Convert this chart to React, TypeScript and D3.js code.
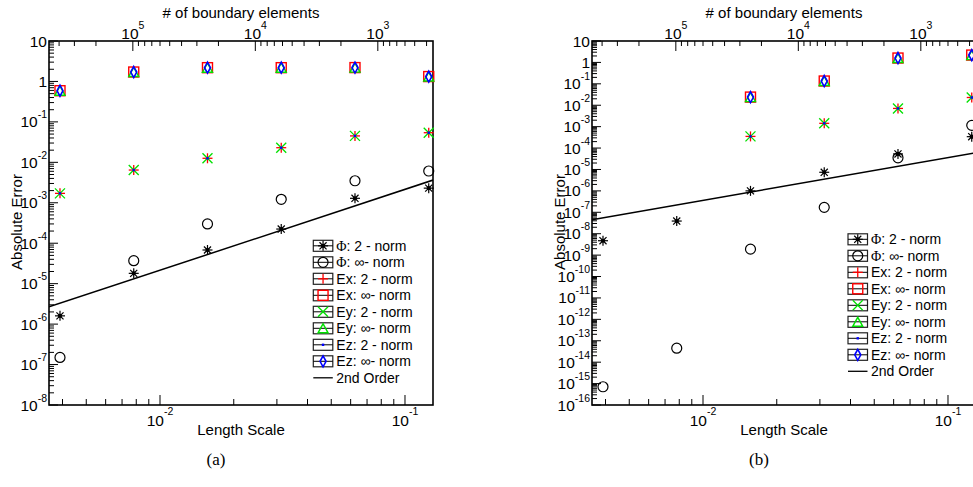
import React from 'react';
import * as d3 from 'd3';

// Mesh length scales (h) for the refinement study
const lengthScale = [1 / 256, 1 / 128, 1 / 64, 1 / 32, 1 / 16, 1 / 8];

// Panel (a) errors
const phi2NormA = [1.6e-6, 1.8e-5, 6.8e-5, 2.24e-4, 1.29e-3, 2.3e-3];
const phiInfNormA = [1.5e-7, 3.7e-5, 3.0e-4, 1.22e-3, 3.5e-3, 6.1e-3];
const ex2NormA = [1.71e-3, 6.45e-3, 1.26e-2, 2.3e-2, 4.5e-2, 5.4e-2];
const exInfNormA = [0.59, 1.71, 2.19, 2.19, 2.2, 1.32];
const ey2NormA = [1.71e-3, 6.45e-3, 1.26e-2, 2.3e-2, 4.5e-2, 5.4e-2];
const eyInfNormA = [0.59, 1.71, 2.19, 2.19, 2.2, 1.32];
const ez2NormA = [1.71e-3, 6.45e-3, 1.26e-2, 2.3e-2, 4.5e-2, 5.4e-2];
const ezInfNormA = [0.59, 1.71, 2.19, 2.19, 2.2, 1.32];
const secondOrderCoefA = 0.215;

// Panel (b) errors (field errors only on the four coarsest meshes)
const fieldLengthScaleB = [1 / 64, 1 / 32, 1 / 16, 1 / 8];
const phi2NormB = [4.7e-9, 3.9e-8, 1.0e-6, 7.4e-6, 5.3e-5, 3.4e-4];
const phiInfNormB = [7.1e-16, 4.5e-14, 1.9e-9, 1.7e-7, 3.5e-5, 1.15e-3];
const ex2NormB = [3.5e-4, 1.43e-3, 7.1e-3, 2.3e-2];
const exInfNormB = [2.4e-2, 0.135, 1.6, 2.2];
const ey2NormB = [3.5e-4, 1.43e-3, 7.1e-3, 2.3e-2];
const eyInfNormB = [2.4e-2, 0.135, 1.6, 2.2];
const ez2NormB = [3.5e-4, 1.43e-3, 7.1e-3, 2.3e-2];
const ezInfNormB = [2.4e-2, 0.135, 1.6, 2.2];
const secondOrderCoefB = 3.6e-3;

const legendLabels = [
  ['Φ', ': 2 - norm'],
  ['Φ', ': ∞- norm'],
  ['', 'Ex: 2 - norm'],
  ['', 'Ex: ∞- norm'],
  ['', 'Ey: 2 - norm'],
  ['', 'Ey: ∞- norm'],
  ['', 'Ez: 2 - norm'],
  ['', 'Ez: ∞- norm'],
  ['', '2nd Order'],
];
const markerKinds = ['asterisk', 'circle', 'plus', 'square', 'cross', 'triangle', 'dot', 'diamond'];

const FRAME = { left: 49, right: 433, top: 41, bottom: 405 };
const H_MIN = Math.pow(10, -2.4531);
const H_MAX = Math.pow(10, -0.8857);
const elementCount = (h: number) => 6 / (h * h);

const SANS = '"Liberation Sans", Arial, sans-serif';
const SERIF = '"Liberation Serif", "Times New Roman", serif';
const RED = '#ff0000';
const GREEN = '#00e000';
const BLUE = '#0000ff';

function logTicks(lo: number, hi: number) {
  const a = Math.min(lo, hi), b = Math.max(lo, hi);
  const out: { v: number; major: boolean; e: number }[] = [];
  for (let e = Math.floor(Math.log10(a)) - 1; e <= Math.ceil(Math.log10(b)); e++) {
    for (let m = 1; m <= 9; m++) {
      const v = m * Math.pow(10, e);
      if (v >= a * 0.9999 && v <= b * 1.0001) out.push({ v, major: m === 1, e });
    }
  }
  return out;
}

function PowerLabel({ e, x, y, anchor, raise }: any) {
  if (e === 0) return <text x={x} y={y} textAnchor={anchor} fontSize={15.5}>1</text>;
  if (e === 1) return <text x={x} y={y} textAnchor={anchor} fontSize={15.5}>10</text>;
  return (
    <text x={x} y={y} textAnchor={anchor} fontSize={15.5}>
      10<tspan dy={-raise} fontSize={10.5}>{String(e)}</tspan>
    </text>
  );
}

function Marker({ kind, cx, cy }: { kind: string; cx: number; cy: number }) {
  switch (kind) {
    case 'asterisk':
      return (
        <g stroke="#000" strokeWidth={1.2}>
          {[0, 45, 90, 135].map((a) => {
            const c = Math.cos((a * Math.PI) / 180) * 5;
            const s = Math.sin((a * Math.PI) / 180) * 5;
            return <line key={a} x1={cx - c} y1={cy - s} x2={cx + c} y2={cy + s} />;
          })}
          <circle cx={cx} cy={cy} r={1.5} fill="#000" />
        </g>
      );
    case 'circle':
      return <circle cx={cx} cy={cy} r={5} fill="none" stroke="#000" strokeWidth={1.2} />;
    case 'plus':
      return (
        <g stroke={RED} strokeWidth={1.3}>
          <line x1={cx - 5} y1={cy} x2={cx + 5} y2={cy} />
          <line x1={cx} y1={cy - 5} x2={cx} y2={cy + 5} />
        </g>
      );
    case 'square':
      return <rect x={cx - 5} y={cy - 5} width={10} height={10} fill="none" stroke={RED} strokeWidth={1.4} />;
    case 'cross':
      return (
        <g stroke={GREEN} strokeWidth={1.3}>
          <line x1={cx - 5} y1={cy - 5} x2={cx + 5} y2={cy + 5} />
          <line x1={cx - 5} y1={cy + 5} x2={cx + 5} y2={cy - 5} />
        </g>
      );
    case 'triangle':
      return (
        <polygon
          points={`${cx - 5},${cy + 4.5} ${cx + 5},${cy + 4.5} ${cx},${cy - 4.5}`}
          fill="none"
          stroke={GREEN}
          strokeWidth={1.4}
        />
      );
    case 'dot':
      return <rect x={cx - 1.2} y={cy - 1.2} width={2.4} height={2.4} fill={BLUE} />;
    case 'diamond':
      return (
        <polygon
          points={`${cx},${cy - 5.5} ${cx + 3},${cy} ${cx},${cy + 5.5} ${cx - 3},${cy}`}
          fill="none"
          stroke={BLUE}
          strokeWidth={1.6}
        />
      );
    default:
      return null;
  }
}

function Panel({ id, dx, yMinExp, series, orderCoef, legendX, legendY, caption }: any) {
  const x = d3.scaleLog().domain([H_MIN, H_MAX]).range([FRAME.left, FRAME.right]);
  const y = d3.scaleLog().domain([Math.pow(10, yMinExp), 10]).range([FRAME.bottom, FRAME.top]);
  const top = d3
    .scaleLog()
    .domain([elementCount(H_MIN), elementCount(H_MAX)])
    .range([FRAME.left, FRAME.right]);

  const bottomTicks = logTicks(H_MIN, H_MAX);
  const topTicks = logTicks(elementCount(H_MAX), elementCount(H_MIN));
  const yTicks = logTicks(Math.pow(10, yMinExp), 10);

  const orderLine = d3
    .line<number>()
    .x((h) => x(h))
    .y((h) => y(orderCoef * h * h))([H_MIN, H_MAX]);

  const clipId = `clip-${id}`;
  const rowH = 16.5;

  return (
    <g transform={`translate(${dx},0)`} fontFamily={SANS} fill="#000">
      <defs>
        <clipPath id={clipId}>
          <rect x={FRAME.left} y={FRAME.top} width={FRAME.right - FRAME.left} height={FRAME.bottom - FRAME.top} />
        </clipPath>
      </defs>

      {/* tick marks */}
      <g stroke="#000" strokeWidth={1}>
        {bottomTicks.map((t, i) => (
          <line key={`b${i}`} x1={x(t.v)} x2={x(t.v)} y1={FRAME.bottom} y2={FRAME.bottom - (t.major ? 10 : 6)} />
        ))}
        {topTicks.map((t, i) => (
          <line key={`t${i}`} x1={top(t.v)} x2={top(t.v)} y1={FRAME.top} y2={FRAME.top + (t.major ? 10 : 5)} />
        ))}
        {yTicks.map((t, i) => (
          <line key={`y${i}`} x1={FRAME.left} x2={FRAME.left + (t.major ? 9 : 5)} y1={y(t.v)} y2={y(t.v)} />
        ))}
      </g>

      {/* tick labels */}
      {bottomTicks.filter((t) => t.major).map((t) => (
        <PowerLabel key={`bl${t.e}`} e={t.e} x={x(t.v)} y={426} anchor="middle" raise={11} />
      ))}
      {topTicks.filter((t) => t.major).map((t) => (
        <PowerLabel key={`tl${t.e}`} e={t.e} x={top(t.v)} y={39} anchor="middle" raise={10} />
      ))}
      {yTicks.filter((t) => t.major).map((t) => (
        <PowerLabel key={`yl${t.e}`} e={t.e} x={FRAME.left - 2} y={y(t.v) + 5.5} anchor="end" raise={9} />
      ))}

      {/* frame */}
      <rect
        x={FRAME.left}
        y={FRAME.top}
        width={FRAME.right - FRAME.left}
        height={FRAME.bottom - FRAME.top}
        fill="none"
        stroke="#000"
        strokeWidth={1.6}
      />

      {/* axis titles */}
      <text x={(FRAME.left + FRAME.right) / 2} y={17.5} textAnchor="middle" fontSize={15}># of boundary elements</text>
      <text x={(FRAME.left + FRAME.right) / 2} y={435} textAnchor="middle" fontSize={15}>Length Scale</text>
      <text transform="translate(22,222) rotate(-90)" textAnchor="middle" fontSize={15}>Absolute Error</text>

      {/* data */}
      <g clipPath={`url(#${clipId})`}>
        <path d={orderLine || ''} fill="none" stroke="#000" strokeWidth={1.5} />
      </g>
      {series.map((s: any, si: number) =>
        s.values.map((v: number, i: number) => (
          <Marker key={`${si}-${i}`} kind={s.kind} cx={x(s.h[i])} cy={y(v)} />
        ))
      )}

      {/* legend */}
      {legendLabels.map((lab, i) => {
        const cy = legendY + i * rowH;
        const isLine = i === legendLabels.length - 1;
        return (
          <g key={`lg${i}`}>
            {isLine ? (
              <line x1={legendX} x2={legendX + 19.5} y1={cy} y2={cy} stroke="#000" strokeWidth={1.3} />
            ) : (
              <g>
                <rect x={legendX} y={cy - 5.5} width={19.5} height={11} fill="none" stroke="#222" strokeWidth={1.2} />
                <line x1={legendX} x2={legendX + 19.5} y1={cy} y2={cy} stroke="#000" strokeWidth={1} />
                <Marker kind={markerKinds[i]} cx={legendX + 9.75} cy={cy} />
              </g>
            )}
            <text x={legendX + 23} y={cy + 5} fontSize={14}>
              {lab[0] ? <tspan fontFamily={SERIF}>{lab[0]}</tspan> : null}
              {lab[1]}
            </text>
          </g>
        );
      })}

      <text x={216} y={465} textAnchor="middle" fontSize={17} fontFamily={SERIF}>{caption}</text>
    </g>
  );
}

export default function App() {
  const seriesA = [
    { kind: 'asterisk', h: lengthScale, values: phi2NormA },
    { kind: 'circle', h: lengthScale, values: phiInfNormA },
    { kind: 'plus', h: lengthScale, values: ex2NormA },
    { kind: 'square', h: lengthScale, values: exInfNormA },
    { kind: 'cross', h: lengthScale, values: ey2NormA },
    { kind: 'triangle', h: lengthScale, values: eyInfNormA },
    { kind: 'dot', h: lengthScale, values: ez2NormA },
    { kind: 'diamond', h: lengthScale, values: ezInfNormA },
  ];
  const seriesB = [
    { kind: 'asterisk', h: lengthScale, values: phi2NormB },
    { kind: 'circle', h: lengthScale, values: phiInfNormB },
    { kind: 'plus', h: fieldLengthScaleB, values: ex2NormB },
    { kind: 'square', h: fieldLengthScaleB, values: exInfNormB },
    { kind: 'cross', h: fieldLengthScaleB, values: ey2NormB },
    { kind: 'triangle', h: fieldLengthScaleB, values: eyInfNormB },
    { kind: 'dot', h: fieldLengthScaleB, values: ez2NormB },
    { kind: 'diamond', h: fieldLengthScaleB, values: ezInfNormB },
  ];
  return (
    <svg
      width={973}
      height={487}
      style={{ position: 'absolute', left: 0, top: 0, background: '#fff' }}
    >
      <rect width={973} height={487} fill="#fff" />
      <Panel id="a" dx={0} yMinExp={-8} series={seriesA} orderCoef={secondOrderCoefA} legendX={313.3} legendY={245.8} caption="(a)" />
      <Panel id="b" dx={543} yMinExp={-16} series={seriesB} orderCoef={secondOrderCoefB} legendX={305} legendY={239.3} caption="(b)" />
    </svg>
  );
}
